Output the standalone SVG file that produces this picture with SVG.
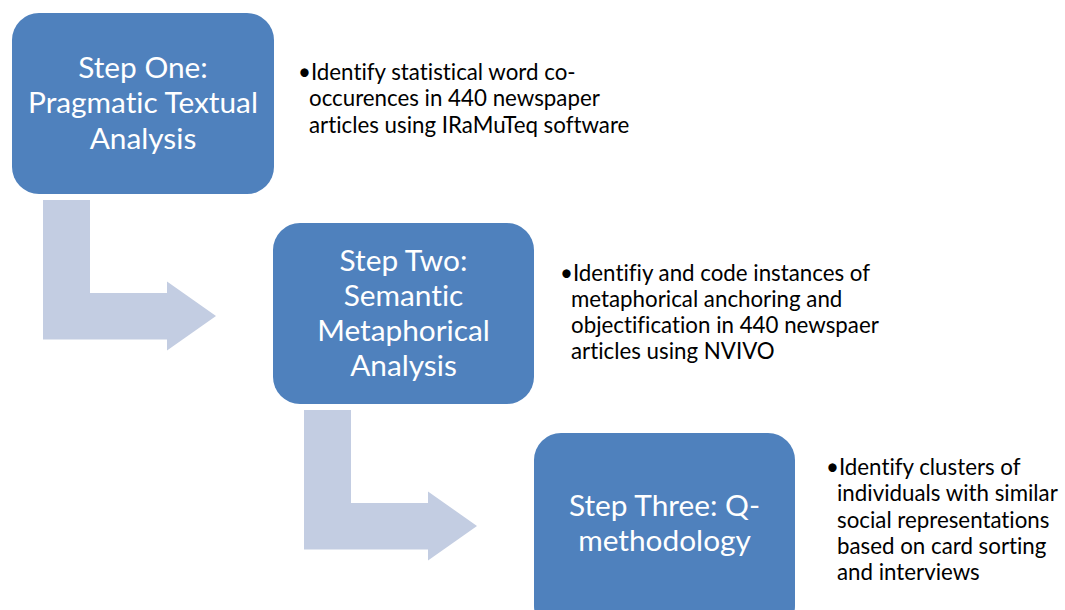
<svg xmlns="http://www.w3.org/2000/svg" width="1065" height="610" viewBox="0 0 1065 610">
<style>
.box{fill:#4F81BD;}
.arrow{fill:#C3CDE2;}
.bt{font-family:Lato,"Liberation Sans",sans-serif;font-size:29.8px;fill:#FFFFFF;text-anchor:middle;font-variant-ligatures:none;}
.st{font-family:Lato,"Liberation Sans",sans-serif;font-size:22.3px;fill:#000000;font-variant-ligatures:none;}
</style>
<rect width="1065" height="610" fill="#FFFFFF"/>
<g id="connectors">
<path class="arrow" d="M43,200 H90 V293 H167 V281.5 L216,316 L167,350.5 V339.5 H43 Z"/>
<path class="arrow" d="M304,410 H351 V503 H428 V491.5 L477,526 L428,560.5 V549.5 H304 Z"/>
</g>
<g id="step1">
<rect class="box" x="12" y="13" width="262" height="181" rx="27"/>
<text class="bt" x="143" y="77.5">Step One:</text>
<text class="bt" x="143" y="113">Pragmatic Textual</text>
<text class="bt" x="143" y="148.5">Analysis</text>
</g>
<g id="note1">
<text class="st" x="298" y="80">•Identify statistical word co-</text>
<text class="st" x="309" y="106">occurences in 440 newspaper</text>
<text class="st" x="309" y="133">articles using IRaMuTeq software</text>
</g>
<g id="step2">
<rect class="box" x="273" y="223" width="261" height="181" rx="27"/>
<text class="bt" x="403.5" y="270.5">Step Two:</text>
<text class="bt" x="403.5" y="305.5">Semantic</text>
<text class="bt" x="403.5" y="340.5">Metaphorical</text>
<text class="bt" x="403.5" y="375.5">Analysis</text>
</g>
<g id="note2">
<text class="st" x="560" y="281">•Identifiy and code instances of</text>
<text class="st" x="571" y="307">metaphorical anchoring and</text>
<text class="st" x="571" y="333">objectification in 440 newspaer</text>
<text class="st" x="571" y="359">articles using NVIVO</text>
</g>
<g id="step3">
<rect class="box" x="534" y="433" width="261" height="200" rx="27"/>
<text class="bt" x="664.5" y="515.5">Step Three: Q-</text>
<text class="bt" x="664.5" y="550.5">methodology</text>
</g>
<g id="note3">
<text class="st" x="826" y="475">•Identify clusters of</text>
<text class="st" x="837" y="501">individuals with similar</text>
<text class="st" x="837" y="528">social representations</text>
<text class="st" x="837" y="554">based on card sorting</text>
<text class="st" x="837" y="580">and interviews</text>
</g>
</svg>
